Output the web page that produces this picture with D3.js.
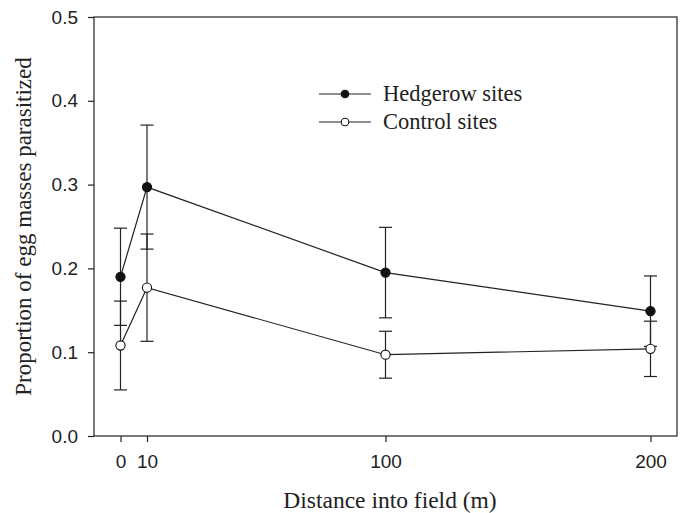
<!DOCTYPE html>
<html>
<head>
<meta charset="utf-8">
<script src="https://cdn.jsdelivr.net/npm/d3@7"></script>
<style>
  html, body { margin: 0; padding: 0; background: #fff; }
  svg { display: block; }
</style>
</head>
<body>
<svg id="chart" width="686" height="513"></svg>
<script>
// ---- data ----
const distances = [0, 10, 100, 200];
const hedgerowMean = [0.190, 0.297, 0.195, 0.149];
const hedgerowErr  = [0.058, 0.074, 0.054, 0.042];
const controlMean  = [0.108, 0.177, 0.097, 0.104];
const controlErr   = [0.053, 0.064, 0.028, 0.033];
const xTicks = [0, 10, 100, 200];
const yTicks = [0.0, 0.1, 0.2, 0.3, 0.4, 0.5];
const seriesNames = ["Hedgerow sites", "Control sites"];

const svg = d3.select("#chart");
const m = { left: 94, right: 677, top: 17, bottom: 436 };
const serif = "Liberation Serif, Times New Roman, serif";
const sans = "Liberation Sans, Arial, sans-serif";

const x = d3.scaleLinear().domain([-10, 210]).range([m.left, m.right]);
const y = d3.scaleLinear().domain([0, 0.5]).range([m.bottom, m.top]);

// frame
svg.append("rect")
  .attr("x", m.left).attr("y", m.top)
  .attr("width", m.right - m.left).attr("height", m.bottom - m.top)
  .attr("fill", "none").attr("stroke", "#222").attr("stroke-width", 1.2);

// axes
const yAxis = d3.axisLeft(y).tickValues(yTicks).tickFormat(d3.format(".1f")).tickSize(6).tickPadding(10);
const gy = svg.append("g").attr("transform", `translate(${m.left},0)`).call(yAxis);
const xAxis = d3.axisBottom(x).tickValues(xTicks).tickFormat(d3.format("d")).tickSize(6).tickPadding(13);
const gx = svg.append("g").attr("transform", `translate(0,${m.bottom})`).call(xAxis);
[gx, gy].forEach(g => {
  g.select(".domain").remove();
  g.selectAll("line").attr("stroke", "#222").attr("stroke-width", 1.2);
  g.selectAll("text").attr("fill", "#222")
    .style("font-family", sans).style("font-size", "19px");
});

// axis titles
svg.append("text")
  .attr("x", 390).attr("y", 508)
  .attr("text-anchor", "middle")
  .style("font-family", serif).style("font-size", "23.5px").attr("fill", "#222")
  .text("Distance into field (m)");
svg.append("text")
  .attr("transform", `translate(31,${(m.top + m.bottom) / 2}) rotate(-90)`)
  .attr("text-anchor", "middle")
  .style("font-family", serif).style("font-size", "23px").attr("fill", "#222")
  .text("Proportion of egg masses parasitized");

const series = [
  { name: seriesNames[0], mean: hedgerowMean, err: hedgerowErr, fill: "#111" },
  { name: seriesNames[1], mean: controlMean, err: controlErr, fill: "#fff" }
];

const line = d3.line().x(d => x(d.x)).y(d => y(d.y));
const capW = 6.5;

// error bars first (both series), then lines, then markers
series.forEach(s => {
  const pts = distances.map((d, i) => ({ x: d, y: s.mean[i], e: s.err[i] }));
  const g = svg.append("g");
  g.selectAll("line.v").data(pts).join("line")
    .attr("x1", d => x(d.x)).attr("x2", d => x(d.x))
    .attr("y1", d => y(d.y - d.e)).attr("y2", d => y(d.y + d.e))
    .attr("stroke", "#222").attr("stroke-width", 1.2);
  ["+", "-"].forEach(sign => {
    g.selectAll("line.c" + (sign === "+" ? "u" : "l")).data(pts).join("line")
      .attr("x1", d => x(d.x) - capW).attr("x2", d => x(d.x) + capW)
      .attr("y1", d => y(sign === "+" ? d.y + d.e : d.y - d.e))
      .attr("y2", d => y(sign === "+" ? d.y + d.e : d.y - d.e))
      .attr("stroke", "#222").attr("stroke-width", 1.2);
  });
});
series.forEach(s => {
  const pts = distances.map((d, i) => ({ x: d, y: s.mean[i] }));
  svg.append("path").datum(pts).attr("d", line)
    .attr("fill", "none").attr("stroke", "#222").attr("stroke-width", 1.2);
});
series.forEach(s => {
  const pts = distances.map((d, i) => ({ x: d, y: s.mean[i] }));
  svg.append("g").selectAll("circle").data(pts).join("circle")
    .attr("cx", d => x(d.x)).attr("cy", d => y(d.y)).attr("r", 4.6)
    .attr("fill", s.fill).attr("stroke", "#111").attr("stroke-width", 1.1);
});

// legend
const legY = [94, 122];
series.forEach((s, i) => {
  const g = svg.append("g").attr("transform", `translate(0,${legY[i]})`);
  g.append("line").attr("x1", 319).attr("x2", 371).attr("y1", 0).attr("y2", 0)
    .attr("stroke", "#222").attr("stroke-width", 1.2);
  g.append("circle").attr("cx", 345).attr("cy", 0).attr("r", 3.8)
    .attr("fill", s.fill).attr("stroke", "#111").attr("stroke-width", 1.1);
  g.append("text").attr("x", 383).attr("y", 7)
    .style("font-family", serif).style("font-size", "22.5px").attr("fill", "#222")
    .text(s.name);
});
</script>
</body>
</html>
